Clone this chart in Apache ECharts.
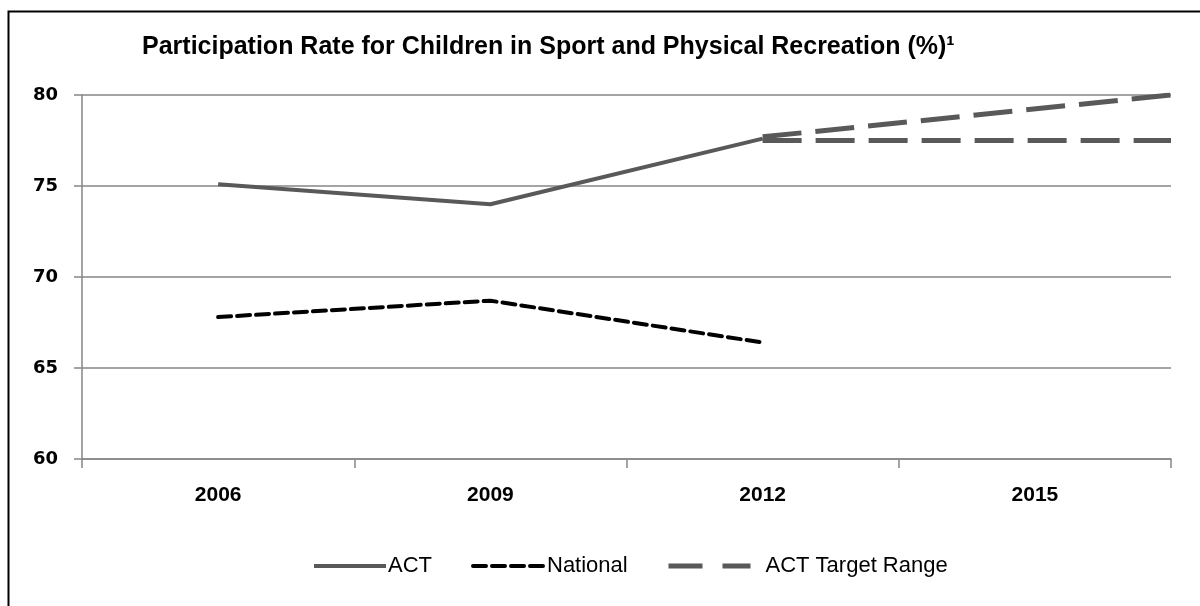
<!DOCTYPE html>
<html>
<head>
<meta charset="utf-8">
<script src="https://cdn.jsdelivr.net/npm/echarts@6/dist/echarts.min.js"></script>
<style>
html,body{margin:0;padding:0;background:#fff;}
#chart{width:1200px;height:606px;}
</style>
</head>
<body>
<div id="chart"></div>
<script>
// ---- data ----
var titleText = 'Participation Rate for Children in Sport and Physical Recreation (%)\u00B9';
var years = ['2006', '2009', '2012', '2015'];
var actValues = [75.1, 74.0, 77.6, null];
var nationalValues = [67.8, 68.7, 66.4, null];
// target range: positions on a band scale (0..4, band centre = index + 0.5)
var targetUpperX = [2.5, 4];
var targetUpperY = [77.7, 80];
var targetLowerX = [2.5, 4];
var targetLowerY = [77.5, 77.5];
var yTicks = [60, 65, 70, 75, 80];

var sans = '"Liberation Sans", Arial, sans-serif';
var grey = '#595959';

function pairs(xs, ys) { return xs.map(function (x, i) { return [x, ys[i]]; }); }

var chart = echarts.init(document.getElementById('chart'), null, { renderer: 'canvas' });
chart.setOption({
  backgroundColor: '#fff',
  animation: false,
  title: {
    text: titleText,
    left: 137, top: 30,
    textStyle: { fontFamily: sans, fontWeight: 'bold', fontSize: 25, color: '#000' }
  },
  graphic: [{
    type: 'rect', left: 6, top: 9, silent: true,
    shape: { width: 1210, height: 620 },
    style: { fill: 'none', stroke: '#000', lineWidth: 2 }
  }],
  grid: { left: 82, right: 29, top: 95, bottom: 147 },
  xAxis: [{
    type: 'category', data: years, boundaryGap: true,
    axisLine: { lineStyle: { color: '#868686', width: 1.5 } },
    axisTick: { show: true, length: 9, alignWithLabel: false, lineStyle: { color: '#868686', width: 1.5 } },
    axisLabel: { margin: 26, fontFamily: sans, fontWeight: 'bold', fontSize: 21, color: '#000' }
  }, {
    type: 'value', min: 0, max: 4, show: false
  }],
  yAxis: {
    type: 'value', min: yTicks[0], max: yTicks[yTicks.length - 1], interval: 5,
    axisLine: { show: true, lineStyle: { color: '#868686', width: 1.5 } },
    axisTick: { show: true, length: 8, lineStyle: { color: '#868686', width: 1.5 } },
    splitLine: { lineStyle: { color: '#868686', width: 1.5 } },
    axisLabel: { margin: 24, fontFamily: '"DejaVu Sans", sans-serif', fontWeight: 'bold', fontSize: 18, color: '#000' }
  },
  legend: [{
    data: ['ACT'], left: 307, top: 550, itemWidth: 72, itemHeight: 14, itemGap: 5,
    itemStyle: { opacity: 0 }, lineStyle: { width: 4 },
    textStyle: { fontFamily: sans, fontSize: 22, color: '#000', padding: [0, 0, 0, -3] }
  }, {
    data: ['National'], left: 466, top: 550, itemWidth: 72, itemHeight: 14,
    itemStyle: { opacity: 0 }, lineStyle: { width: 4 },
    textStyle: { fontFamily: sans, fontSize: 22, color: '#000', padding: [0, 0, 0, -3] }
  }, {
    data: ['ACT Target Range'], left: 661, top: 550, itemWidth: 82, itemHeight: 14,
    itemStyle: { opacity: 0 }, lineStyle: { width: 5, type: [34, 20] },
    textStyle: { fontFamily: sans, fontSize: 22, color: '#000', padding: [0, 0, 0, 10] }
  }],
  series: [{
    name: 'ACT', type: 'line', data: actValues, symbol: 'none', z: 3,
    lineStyle: { color: grey, width: 4 }, itemStyle: { color: grey }
  }, {
    name: 'National', type: 'line', data: nationalValues, symbol: 'none', z: 3,
    lineStyle: { color: '#000', width: 4, type: [13, 6], cap: 'round' }, itemStyle: { color: '#000' }
  }, {
    name: 'ACT Target Range', type: 'line', xAxisIndex: 1, data: pairs(targetUpperX, targetUpperY),
    symbol: 'none', z: 2,
    lineStyle: { color: grey, width: 5, type: [39, 14] }, itemStyle: { color: grey }
  }, {
    name: 'ACT Target Range', type: 'line', xAxisIndex: 1, data: pairs(targetLowerX, targetLowerY),
    symbol: 'none', z: 2,
    lineStyle: { color: grey, width: 5, type: [39, 14] }, itemStyle: { color: grey }
  }]
});
</script>
</body>
</html>
